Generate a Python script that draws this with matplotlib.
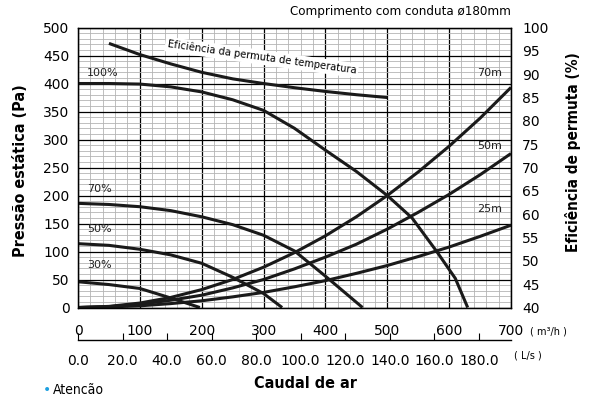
import matplotlib.pyplot as plt
from matplotlib.ticker import MultipleLocator

plt.rcParams['font.family'] = ['DejaVu Sans']

# fan curves, static pressure (Pa) vs airflow (m3/h)
fan_100_x = [0, 50, 100, 150, 200, 250, 300, 350, 400, 450, 500, 540, 580, 610, 630]
fan_100_y = [400, 400, 399, 394, 385, 371, 352, 320, 281, 243, 200, 160, 100, 52, 0]
fan_70_x = [0, 50, 100, 150, 200, 250, 300, 350, 400, 430, 460]
fan_70_y = [186, 184, 180, 173, 162, 148, 129, 101, 56, 28, 0]
fan_50_x = [0, 50, 100, 150, 200, 250, 300, 330]
fan_50_y = [114, 111, 104, 94, 79, 54, 25, 0]
fan_30_x = [0, 50, 100, 150, 197]
fan_30_y = [46, 41, 34, 17, 0]

# duct length system curves
duct_x = [0, 50, 100, 150, 200, 250, 300, 350, 400, 450, 500, 550, 600, 650, 700]
duct_70m = [0, 2, 8, 18, 32, 50, 72, 98, 128, 162, 200, 242, 288, 338, 393]
duct_50m = [0, 1.5, 6, 13, 22, 35, 50, 69, 90, 113, 140, 170, 202, 237, 275]
duct_25m = [0, 1, 3, 7, 12, 19, 27, 37, 48, 61, 75, 91, 108, 127, 147]

# heat exchange efficiency (%)
eff_x = [50, 100, 150, 200, 250, 300, 350, 400, 450, 500]
eff_y = [96.6, 94.2, 92.2, 90.4, 89.0, 88.0, 87.1, 86.3, 85.6, 85.0]

flow_ticks = list(range(0, 701, 100))
ls_ticks = list(range(0, 181, 20))

narrow = dict(family='DejaVu Sans', stretch='condensed')

fig = plt.figure(figsize=(5.91, 3.97), dpi=100)
ax = fig.add_axes([0.132, 0.2254, 0.7326, 0.7053])

ax.set_xlim(0, 700)
ax.set_ylim(0, 500)
ax.set_xticks(flow_ticks)
ax.xaxis.set_minor_locator(MultipleLocator(20))
ax.yaxis.set_major_locator(MultipleLocator(50))
ax.yaxis.set_minor_locator(MultipleLocator(10))
ax.grid(which='minor', color='#b4b4b4', lw=0.6)
ax.grid(which='major', color='black', lw=0.9)
ax.tick_params(which='both', length=0)
ax.tick_params(axis='x', pad=12, labelsize=10)
ax.tick_params(axis='y', pad=6, labelsize=10)
for s in ax.spines.values():
    s.set_linewidth(1.0)

lw = 2.2
for xs, ys in [(fan_100_x, fan_100_y), (fan_70_x, fan_70_y),
               (fan_50_x, fan_50_y), (fan_30_x, fan_30_y)]:
    ax.plot(xs, ys, color='#1a1a1a', lw=lw, solid_capstyle='butt')
for ys in [duct_70m, duct_50m, duct_25m]:
    ax.plot(duct_x, ys, color='#1a1a1a', lw=lw, solid_capstyle='butt')

for txt, y in [('100%', 418), ('70%', 212), ('50%', 140), ('30%', 76)]:
    ax.text(15, y, txt, fontsize=8, va='center', ha='left', color='#222222')
for txt, y in [('70m', 418), ('50m', 288), ('25m', 176)]:
    ax.text(685, y, txt, fontsize=8, va='center', ha='right', color='#222222')

ax2 = ax.twinx()
ax2.set_ylim(40, 100)
ax2.yaxis.set_major_locator(MultipleLocator(5))
ax2.tick_params(length=0, pad=8, labelsize=10)
ax2.plot(eff_x, eff_y, color='#1a1a1a', lw=lw, solid_capstyle='butt')
ax2.text(297, 93.6, 'Eficiência da permuta de temperatura', fontsize=8,
         rotation=-8, ha='center', va='center', rotation_mode='anchor',
         bbox=dict(fc='white', ec='none', pad=1.5), **narrow)

sec = ax.secondary_xaxis(-0.116, functions=(lambda v: v / 3.6, lambda v: v * 3.6))
sec.set_xticks(ls_ticks)
sec.set_xticklabels([f'{v:.1f}' for v in ls_ticks])
sec.tick_params(direction='in', length=5, width=0.8, pad=10, labelsize=10)
sec.spines['bottom'].set_linewidth(1.0)

fig.text(511 / 591, 1 - 12 / 397, 'Comprimento com conduta ø180mm',
         ha='right', va='center', fontsize=9.5, **narrow)
fig.text(21 / 591, 1 - 171 / 397, 'Pressão estática (Pa)', rotation=90,
         ha='center', va='center', fontsize=11.5, fontweight='bold', **narrow)
fig.text(573 / 591, 1 - 152 / 397, 'Eficiência de permuta (%)', rotation=90,
         ha='center', va='center', fontsize=11, fontweight='bold', **narrow)
fig.text(306 / 591, 1 - 384 / 397, 'Caudal de ar', ha='center', va='center',
         fontsize=11.5, fontweight='bold', **narrow)
fig.text(548 / 591, 1 - 331 / 397, '( m³/h )', ha='center', va='center', fontsize=7)
fig.text(528 / 591, 1 - 355 / 397, '( L/s )', ha='center', va='center', fontsize=7)
fig.text(43 / 591, 1 - 390 / 397, '•', color='#1ea0e0', ha='left', va='center', fontsize=10)
fig.text(53 / 591, 1 - 390 / 397, 'Atencão', ha='left', va='center',
         fontsize=10, **narrow)

fig.savefig('out.png', dpi=100)
